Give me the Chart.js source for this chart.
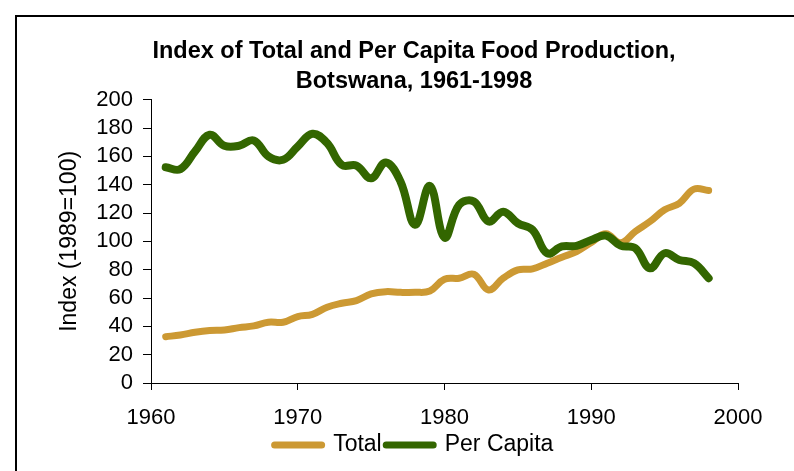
<!DOCTYPE html>
<html>
<head>
<meta charset="utf-8">
<script src="https://cdn.jsdelivr.net/npm/chart.js@4/dist/chart.umd.min.js"></script>
<style>
    body { margin: 0; background: #fff; overflow: hidden; }
    /* рамка диаграммы: видна только слева и сверху */
    .frame {
        position: absolute; left: 15px; top: 15px;
        width: 800px; height: 470px;
        border-left: 2px solid #000; border-top: 2px solid #000;
    }
    .box { position: absolute; left: 17px; top: 17px; width: 794px; height: 454px; }
</style>
</head>
<body>
<div class="frame"></div>
<div class="box"><canvas id="chart"></canvas></div>
<script>
const years = [];
for (let y = 1961; y <= 1998; y++) years.push(y);

// Индекс общего производства продуктов питания (1989=100)
const total = [32.7, 33.9, 35.8, 37, 37.4, 39.1, 40.3, 42.9, 42.9, 46.9,
    48.5, 53.5, 56.3, 58.2, 62.9, 64.5, 64, 64, 65, 73.3,
    74, 76.8, 65.7, 74, 79.9, 80.6, 84.6, 88.8, 92.8, 99.2,
    105.3, 99, 107, 114, 122.3, 126.9, 136.9, 136];

// Индекс на душу населения
const perCapita = [152.4, 151, 163.5, 175.3, 167.5, 167.5, 171.3, 160, 157.6, 167,
    176, 169.4, 154, 153.5, 144.6, 155.7, 142.3, 111.7, 139.2, 102.7,
    125.8, 128.2, 114, 121, 112.8, 108.1, 91.6, 96.4, 96.8, 101,
    104.1, 97, 95.2, 81, 91.6, 86.9, 84.6, 74];

const xTicks = [1960, 1970, 1980, 1990, 2000];
const yTicks = [0, 20, 40, 60, 80, 100, 120, 140, 160, 180, 200];

const titleLines = ['Index of Total and Per Capita Food Production,', 'Botswana, 1961-1998'];
const seriesNames = ['Total', 'Per Capita'];
const seriesColors = ['#CC9933', '#336600'];

const font = 'Arial, "Liberation Sans", sans-serif';

const toPoints = values => values.map((v, i) => ({ x: years[i], y: v }));

new Chart(document.getElementById('chart'), {
    type: 'line',
    data: {
        datasets: [
            {
                label: seriesNames[0],
                data: toPoints(total),
                borderColor: seriesColors[0],
                borderWidth: 7,
                order: 1,
            },
            {
                label: seriesNames[1],
                data: toPoints(perCapita),
                borderColor: seriesColors[1],
                borderWidth: 8,
                order: 0, // зелёная линия поверх
            }
        ]
    },
    options: {
        responsive: true,
        maintainAspectRatio: false,
        animation: false,
        events: [],
        elements: {
            point: { radius: 0 },
            line: { tension: 0.4, borderCapStyle: 'round', borderJoinStyle: 'round', fill: false }
        },
        layout: { padding: { left: 0, right: 0, top: 0, bottom: 4.5 } },
        plugins: {
            tooltip: { enabled: false },
            title: {
                display: true,
                text: titleLines,
                color: '#000',
                font: { family: font, size: 23.5, weight: 'bold', lineHeight: 1.25 },
                padding: { top: 20, bottom: 4 }
            },
            legend: {
                position: 'bottom',
                labels: {
                    color: '#000',
                    font: { family: font, size: 23, lineHeight: 1 },
                    usePointStyle: true,
                    pointStyleWidth: 47,
                    boxHeight: 23,
                    padding: 4.5,
                    generateLabels: chart => chart.data.datasets.map((ds, i) => ({
                        text: ds.label,
                        datasetIndex: i,
                        fillStyle: ds.borderColor,
                        strokeStyle: ds.borderColor,
                        lineWidth: 7,
                        lineCap: 'round',
                        pointStyle: 'line',
                        fontColor: '#000',
                        hidden: false
                    }))
                }
            }
        },
        scales: {
            x: {
                type: 'linear',
                min: xTicks[0],
                max: xTicks[xTicks.length - 1],
                afterBuildTicks: scale => { scale.ticks = xTicks.map(v => ({ value: v })); },
                // место справа от оси, заголовок и легенда остаются по центру холста
                afterFit: scale => {
                    scale.paddingRight = 73;
                    scale.height = 46;
                },
                border: { display: true, color: '#000', width: 1 },
                grid: { display: true, drawOnChartArea: false, drawTicks: true, tickLength: 7, color: '#000' },
                ticks: {
                    color: '#000',
                    font: { family: font, size: 22, lineHeight: 1 },
                    padding: 17,
                    maxRotation: 0,
                    autoSkip: false,
                    callback: v => String(v)
                }
            },
            y: {
                min: yTicks[0],
                max: yTicks[yTicks.length - 1],
                afterBuildTicks: scale => { scale.ticks = yTicks.map(v => ({ value: v })); },
                afterFit: scale => { scale.width = 134; },
                border: { display: true, color: '#000', width: 1 },
                grid: { display: true, drawOnChartArea: false, drawTicks: true, tickLength: 8, color: '#000' },
                ticks: {
                    color: '#000',
                    font: { family: font, size: 22 },
                    padding: 10,
                    autoSkip: false
                },
                title: {
                    display: true,
                    text: 'Index (1989=100)',
                    color: '#000',
                    font: { family: font, size: 23 },
                    padding: { top: 39, bottom: 0 }
                }
            }
        }
    }
});
</script>
</body>
</html>
